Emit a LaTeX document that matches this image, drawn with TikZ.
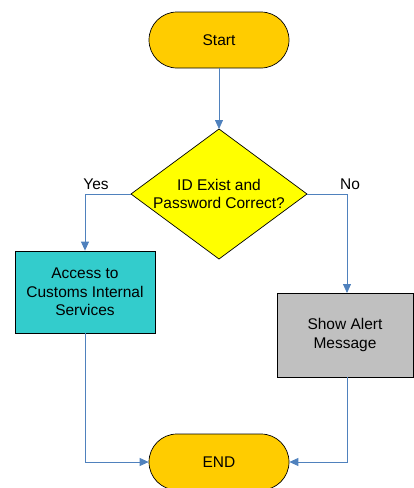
\documentclass[tikz,border=0pt]{standalone}
\usepackage{fontspec}
\setmainfont{Liberation Sans}
\usetikzlibrary{shapes.geometric,shapes.misc,arrows.meta}
\definecolor{gold}{RGB}{255,204,0}
\definecolor{yel}{RGB}{255,255,0}
\definecolor{teal2}{RGB}{51,204,204}
\definecolor{gry}{RGB}{192,192,192}
\definecolor{lineblue}{RGB}{79,129,189}
\begin{document}
\begin{tikzpicture}[x=1pt,y=-1pt,
  every node/.style={font=\fontsize{15.5}{18.5}\selectfont, text=black},
  term/.style={draw=black, line width=0.7pt, fill=gold, rounded rectangle, minimum width=140pt, minimum height=56pt, inner sep=0pt},
  proc/.style={draw=black, line width=0.8pt, minimum width=140pt, inner sep=0pt, align=center},
  conn/.style={draw=lineblue, line width=0.8pt, -{Triangle[length=9pt,width=8pt]}}
]
\useasboundingbox (0,0) rectangle (414,488);
\node[term] (start) at (219,40) {Start};
\coordinate (dT) at (219,129);
\coordinate (dL) at (131,194);
\coordinate (dR) at (307,194);
\coordinate (dB) at (219,259);
\path[draw=black, line width=0.7pt, fill=yel] (dT) -- (dR) -- (dB) -- (dL) -- cycle;
\node[align=center] (dtext) at (219,194) {ID Exist and\\Password Correct?};
\node[proc, fill=teal2, minimum height=82pt] (acc) at (85,292) {Access to\\Customs Internal\\Services};
\node[proc, fill=gry, minimum height=84pt, minimum width=136pt] (alert) at (345,335) {Show Alert\\Message};
\node[term] (end) at (219,462) {END};
\node (yes) at (96,184) {Yes};
\node (no) at (350,184) {No};
\coordinate (aT) at (347,293);
\coordinate (aB) at (347,377);
\draw[conn] (start) -- (dT);
\draw[conn] (dL) -| (acc.north);
\draw[conn] (dR) -| (aT);
\draw[conn] (acc.south) |- (end.west);
\draw[conn] (aB) |- (end.east);
\end{tikzpicture}
\end{document}
